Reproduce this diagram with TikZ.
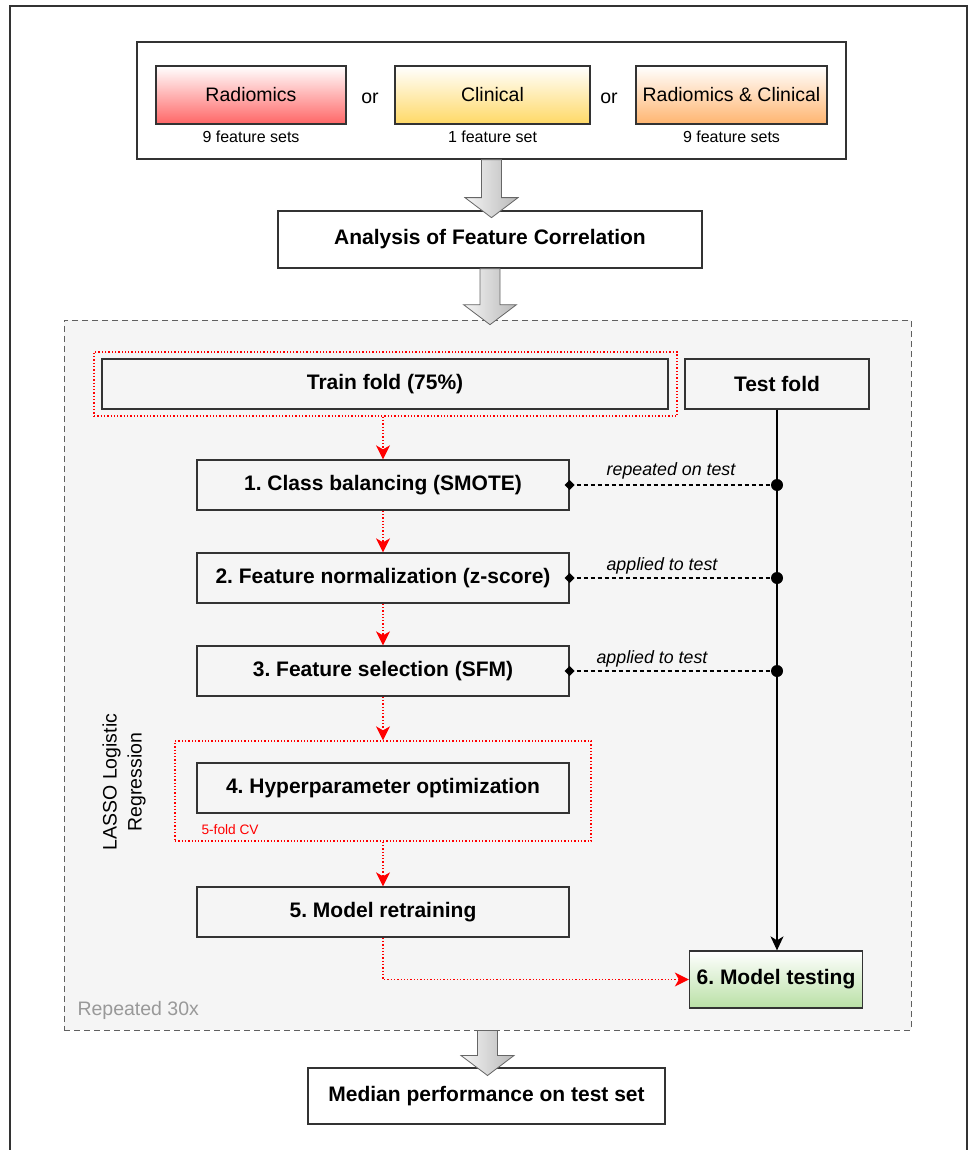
\documentclass[tikz,border=0pt]{standalone}
\usepackage{fontspec}
\setmainfont{Liberation Sans}
\usetikzlibrary{arrows.meta,shapes.geometric,calc}
\definecolor{boxline}{HTML}{333333}
\definecolor{radred}{HTML}{FF6666}
\definecolor{clinyel}{HTML}{FFD966}
\definecolor{rcorange}{HTML}{FFB570}
\definecolor{testgreen}{HTML}{B9E0A5}
\definecolor{panel}{HTML}{F5F5F5}
\tikzset{
  box/.style={draw=boxline, line width=1.3pt, inner sep=0pt, anchor=center},
  whitebox/.style={box, fill=white},
  graybox/.style={box, fill=panel},
  boldlbl/.style={font=\fontsize{21}{24}\selectfont\bfseries},
  featlbl/.style={font=\fontsize{19.5}{23}\selectfont},
  smalllbl/.style={font=\fontsize{16}{19}\selectfont},
  itlbl/.style={font=\fontsize{17.8}{21}\selectfont\itshape},
  redoutline/.style={draw=red, dotted, line width=1.3pt, inner sep=0pt, anchor=center},
  redarrow/.style={draw=red, dotted, line width=1.3pt, -{Stealth[length=14pt,width=14pt,inset=4pt,fill=red]}},
  blackarrow/.style={draw=black, line width=1.2pt, -{Stealth[length=14pt,width=13pt,inset=4pt]}},
  dashconn/.style={draw=black, dashed, dash pattern=on 4pt off 3pt, line width=1.1pt},
  dotmark/.style={circle, fill=black, inner sep=0pt, minimum size=12pt},
  diamark/.style={diamond, fill=black, inner sep=0pt, minimum size=10pt},
  blockarrow/.style={draw=gray!80!black, line width=0.8pt, left color=gray!8, right color=gray!55},
}
\newcommand{\barrow}[2]{\path[blockarrow] (#1) ++(-10,0) -- ++(0,{#2-20}) -- ++(-16.5,0) -- ++(26.5,20) -- ++(26.5,-20) -- ++(-16.5,0) -- ++(0,{-(#2-20)}) -- cycle;}
\frenchspacing
\begin{document}
\begin{tikzpicture}[x=1pt,y=-1pt]
\useasboundingbox (0,0) rectangle (968,1150);
\fill[white] (0,0) rectangle (968,1150);
% outer frame (open at bottom)
\draw[boxline, line width=1.6pt] (10,1152) -- (10,6) -- (967,6) -- (967,1152);

% top input box
\node[whitebox, minimum width=709pt, minimum height=117pt] (top) at (491.5,100.5) {};
\node[box, top color=white, bottom color=radred, minimum width=190pt, minimum height=58pt, featlbl] (rad) at (251,95) {Radiomics};
\node[box, top color=white, bottom color=clinyel, minimum width=195pt, minimum height=58pt, featlbl] (cli) at (492.5,95) {Clinical};
\node[box, top color=white, bottom color=rcorange, minimum width=191pt, minimum height=58pt, featlbl] (rc) at (731.5,95) {Radiomics \& Clinical};
\node[featlbl] (or1) at (370,98) {or};
\node[featlbl] (or2) at (609,98) {or};
\node[smalllbl] (radn) at (rad.south |- 0,137) {9 feature sets};
\node[smalllbl] (clin) at (cli.south |- 0,137) {1 feature set};
\node[smalllbl] (rcn) at (rc.south |- 0,137) {9 feature sets};

% analysis
\node[whitebox, minimum width=424pt, minimum height=57pt, boldlbl] (an) at (490,239.5) {Analysis of Feature Correlation};

% container
\node[draw=gray!75!black, dashed, dash pattern=on 6pt off 4pt, line width=1pt, fill=panel, minimum width=847pt, minimum height=710pt, inner sep=0pt] (cont) at (487.5,675) {};
\node[anchor=west, text=gray!80, font=\fontsize{19.5}{23}\selectfont] (rep) at (74,1010) {Repeated 30x};

% train / test fold
\node[redoutline, minimum width=583pt, minimum height=64pt] (trout) at (385.5,384) {};
\node[graybox, minimum width=566pt, minimum height=50pt, boldlbl] (train) at (385,384) {Train fold (75\%)};
\node[graybox, minimum width=184pt, minimum height=50pt, boldlbl] (test) at (777,384) {Test fold};

% steps
\node[graybox, minimum width=372pt, minimum height=50pt, boldlbl] (s1) at (383,485) {1. Class balancing (SMOTE)};
\node[graybox, minimum width=372pt, minimum height=50pt, boldlbl] (s2) at (383,578) {2. Feature normalization (z-score)};
\node[graybox, minimum width=372pt, minimum height=50pt, boldlbl] (s3) at (383,671) {3. Feature selection (SFM)};
\node[redoutline, minimum width=416pt, minimum height=100pt] (cv) at (383,791) {};
\node[anchor=west, text=red, font=\fontsize{13.7}{16}\selectfont] (cvl) at (198,830) {5-fold CV};
\node[graybox, minimum width=372pt, minimum height=50pt, boldlbl] (s4) at (383,788) {4. Hyperparameter optimization};
\node[graybox, minimum width=372pt, minimum height=50pt, boldlbl] (s5) at (383,912) {5. Model retraining};
\node[rotate=90, align=center, font=\fontsize{19.5}{25}\selectfont] (lasso) at (124,782) {LASSO Logistic\\Regression};

\node[box, top color=white, bottom color=testgreen, minimum width=173pt, minimum height=57pt, boldlbl] (mt) at (776,979.5) {6. Model testing};

% median
\node[whitebox, minimum width=357pt, minimum height=56pt, boldlbl] (med) at (486.5,1096) {Median performance on test set};

% red dotted flow
\draw[redarrow] (trout.south -| s1.north) -- (s1.north);
\draw[redarrow] (s1.south) -- (s2.north);
\draw[redarrow] (s2.south) -- (s3.north);
\draw[redarrow] (s3.south) -- (cv.north);
\draw[redarrow] (cv.south) -- (s5.north);
\draw[redarrow] (s5.south) |- (mt.west);

% test line
\draw[blackarrow] (test.south) -- (test.south |- mt.north);

% dashed connectors
\node[dotmark] (d1) at (s1.east -| test.south) {};
\node[dotmark] (d2) at (s2.east -| test.south) {};
\node[dotmark] (d3) at (s3.east -| test.south) {};
\draw[dashconn] (s1.east) -- (d1);
\draw[dashconn] (s2.east) -- (d2);
\draw[dashconn] (s3.east) -- (d3);
\node[diamark] (m1) at (s1.east) {};
\node[diamark] (m2) at (s2.east) {};
\node[diamark] (m3) at (s3.east) {};
\node[itlbl] (l1) at (671,471) {repeated on test};
\node[itlbl] (l2) at (662,566) {applied to test};
\node[itlbl] (l3) at (652,659) {applied to test};

% block arrows
\barrow{top.south}{58}
\barrow{an.south}{56}
\barrow{cont.south}{45}
\end{tikzpicture}
\end{document}
